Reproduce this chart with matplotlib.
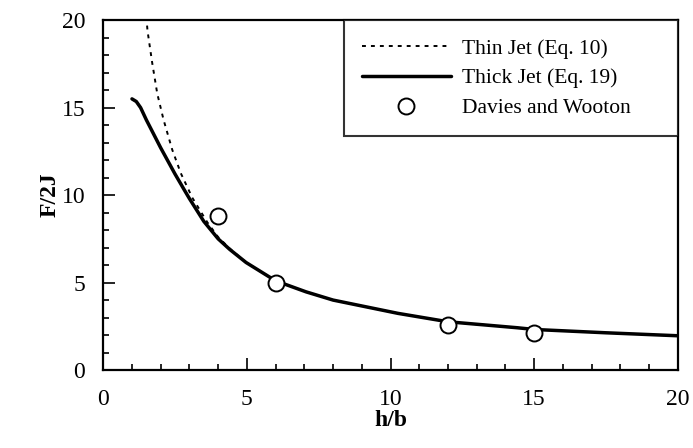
import matplotlib.pyplot as plt
from matplotlib.ticker import MultipleLocator

# Thin jet (Eq. 10)
thin_x = [1.5, 1.54, 1.7, 1.88, 2.1, 2.4, 2.7, 3.1, 3.62, 4.0, 4.4, 4.97, 6.0, 7.06, 8.0, 10.26, 12.0, 14.4, 15.0, 17.5, 20.0]
thin_y = [20.2, 19.4, 17.6, 15.8, 14.3, 12.6, 11.25, 9.85, 8.45, 7.6, 6.95, 6.15, 5.1, 4.47, 4.0, 3.24, 2.76, 2.42, 2.32, 2.13, 1.96]

# Thick jet (Eq. 19)
thick_x = [1.0, 1.15, 1.3, 1.5, 2.0, 2.5, 2.82, 3.0, 3.5, 4.0, 4.4, 4.97, 6.0, 7.06, 8.0, 10.26, 12.0, 14.4, 15.0, 17.5, 20.0]
thick_y = [15.5, 15.35, 15.0, 14.3, 12.7, 11.2, 10.3, 9.8, 8.5, 7.5, 6.9, 6.15, 5.1, 4.47, 4.0, 3.24, 2.76, 2.42, 2.32, 2.13, 1.96]

# Davies and Wooton
exp_x = [4, 6, 12, 15]
exp_y = [8.8, 5.0, 2.57, 2.13]

plt.rcParams['font.family'] = ['Liberation Serif', 'DejaVu Serif']

fig, ax = plt.subplots(figsize=(6.93, 4.48), dpi=100)
fig.subplots_adjust(left=0.149, right=0.978, top=0.955, bottom=0.174)

ax.plot(thin_x, thin_y, color='black', linestyle=(0, (2.0, 2.6)), linewidth=1.4, label='Thin Jet (Eq. 10)')
ax.plot(thick_x, thick_y, color='black', linewidth=2.5, solid_capstyle='round',
        solid_joinstyle='round', label='Thick Jet (Eq. 19)')
ax.plot(exp_x, exp_y, linestyle='none', marker='o', markersize=11.5, markerfacecolor='white',
        markeredgecolor='black', markeredgewidth=1.4, label='Davies and Wooton')

ax.set_xlim(0, 20)
ax.set_ylim(0, 20)
ax.xaxis.set_major_locator(MultipleLocator(5))
ax.xaxis.set_minor_locator(MultipleLocator(1))
ax.yaxis.set_major_locator(MultipleLocator(5))
ax.yaxis.set_minor_locator(MultipleLocator(1))
ax.tick_params(which='both', direction='in', labelsize=17, width=1.2)
ax.tick_params(which='major', length=8.5)
ax.tick_params(which='minor', length=4.5)
ax.tick_params(axis='x', which='both', pad=13.5)
ax.tick_params(axis='y', which='both', pad=13)
for s in ax.spines.values():
    s.set_linewidth(1.6)

ax.set_xlabel('h/b', fontsize=17, fontweight='bold', labelpad=0)
ax.set_ylabel('F/2J', fontsize=17, fontweight='bold', labelpad=1)

# legend frame spans from h/b ~ 8.4 to the right axis
leg = ax.legend(loc='upper left', bbox_to_anchor=(0.419, 0.0, 0.581, 1.0), mode='expand',
                fontsize=15.5, frameon=True, fancybox=False, borderaxespad=0,
                handlelength=4.1, handletextpad=0.55, labelspacing=0.45, borderpad=0.85)
leg.get_frame().set_edgecolor('black')
leg.get_frame().set_linewidth(1.5)

plt.savefig('out.png', dpi=100)
